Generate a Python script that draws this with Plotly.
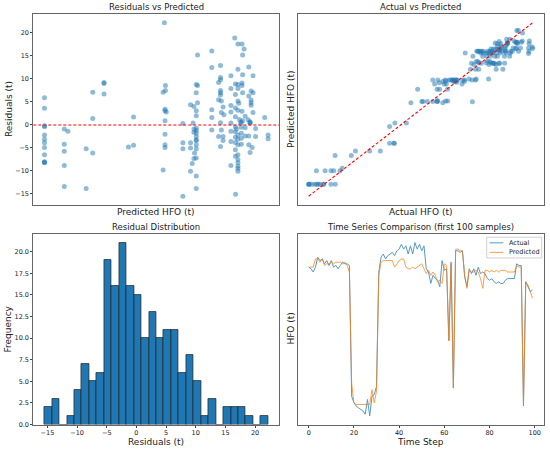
import numpy as np
import plotly.graph_objects as go
from plotly.subplots import make_subplots

# residual plot data: predicted HFO and residual (actual - predicted), both in t
pred_hfo = [
    11.3, 11.3, 11.3, 11.3, 11.3, 11.3, 11.3, 11.3, 11.3, 11.3, 11.3, 11.3,
    20.6, 20.6, 20.6, 20.6, 20.6, 22.3,
    30.9, 30.9, 34.0, 34.0, 34.0,
    39.3, 39.3, 39.3,
    50.8, 53.2, 53.2,
    67.7, 68.2, 68.2, 67.1, 67.1, 68.0, 68.0, 68.6, 68.0, 68.0, 68.0, 68.0,
    76.4, 76.4, 76.4, 76.4,
    80.0, 80.0, 80.0, 80.0,
    80.8, 81.2,
    81.6, 81.6, 81.6, 81.6,
    81.9,
    82.7, 82.7, 82.7, 82.7, 82.7, 82.7, 82.7, 82.7, 82.7, 82.7, 82.7, 82.7, 82.7, 82.7, 82.7,
    83.3, 83.3, 83.3,
    90.0, 90.0, 90.0, 90.0, 90.0,
    93.2, 93.2, 93.2,
    94.1, 94.1, 94.1, 94.1, 94.1, 94.1, 94.1, 94.1,
    94.5, 94.5, 94.5,
    95.3, 95.3, 95.3,
    95.7,
    99.0, 99.0, 99.0, 99.0, 99.0, 99.0, 99.0, 99.0,
    100.8,
    101.1, 101.1, 101.1, 101.1, 101.1, 101.1, 101.1, 101.1, 101.1, 101.1,
    101.2, 101.6,
    102.3, 102.3, 102.3, 102.3, 102.3, 102.3, 102.3, 102.3, 102.3, 102.3, 102.3, 102.3, 102.3, 102.3, 102.3,
    102.7, 103.0, 103.6, 103.8, 103.8,
    103.9, 103.9, 103.9,
    104.2, 104.2, 104.2, 104.2,
    104.5, 104.5, 104.5, 104.5,
    105.2,
    105.7, 105.7, 105.7,
    107.1,
    107.4, 107.4, 107.4, 107.4,
    108.0, 108.0, 108.0,
    108.5, 108.5, 108.5, 108.5,
    108.0, 109.0,
    109.4, 109.4, 109.4,
    110.6, 110.6,
    114.9,
    116.5, 116.5,
]
residuals = [
    5.9, 3.6, -0.2, -0.4, -2.2, -3.1, -3.9, -4.9, -6.5, -8.0, -8.2, -8.1,
    -0.9, -4.2, -5.7, -8.8, -13.4, -1.4,
    -5.2, -13.8, 7.1, 1.4, -6.1,
    9.2, 9.0, 6.7,
    -4.8, 1.7, -4.4,
    22.2, 8.6, 7.5, 7.1, -9.8, 3.4, 3.1, 2.8, 0.9, -2.0, -4.3, -4.9,
    0.3, -3.9, -5.2, -15.5,
    4.4, -3.9, -5.0, -10.1,
    -8.4, 0.4,
    4.0, -0.9, -1.6, -7.3,
    -6.1,
    8.8, 7.0, 3.1, 2.0, -0.7, -1.2, -1.8, -2.5, -3.2, -3.4, -4.3, -5.2, -7.2, -11.1, -13.8,
    15.2, 8.6, 4.8,
    16.1, 12.5, 3.3, 1.6, -1.1,
    9.2, 5.5, -2.5,
    12.9, 10.3, 9.8, 7.5, 7.0, 6.5, 0.5, -4.7,
    5.2, 2.7, -1.1,
    3.9, -2.5, -3.4,
    2.2,
    10.7, 7.9, 4.2, 2.8, 0.4, -1.4, -3.6, -8.8,
    18.9,
    8.9, 6.6, 3.7, 1.8, -0.4, -1.5, -2.7, -3.8, -5.4, -6.8,
    -15.1, -0.9,
    17.6, 12.1, 8.8, 7.9, 5.2, 3.2, -2.2, -3.1, -4.3, -6.5, -7.5, -8.2, -9.0, -9.5, -10.1,
    4.7, 1.2, 0.4, -0.5, 0.6,
    -1.8, -2.9, -4.2,
    17.6, 9.1, 8.6, 3.0,
    15.2, 10.9, 7.0, 0.9,
    16.5,
    1.9, -0.6, -2.4,
    1.1,
    12.6, 6.3, -2.4, -4.3,
    0.7, 0.4, 0.5,
    5.4, 4.8, 4.3, 7.4,
    -6.0, -4.9,
    10.7, 7.0, 2.7,
    -0.8, -2.5,
    1.6,
    -2.2, -3.0,
]

# histogram counts (30 bins between min and max residual)
hist_counts = [2, 3, 0, 1, 4, 7, 5, 6, 19, 16, 21, 16, 15, 10, 13,
               10, 11, 11, 6, 8, 5, 1, 3, 0, 2, 2, 2, 1, 0, 1]

# first 100 samples of the test set
time_step = list(range(100))
ts_actual = [
    95, 94, 92, 95, 101, 99, 100, 97, 99, 96,
    99, 95, 96, 94, 96, 98, 97, 97, 96, 16,
    12, 10, 9, 8, 7, 5, 14, 4, 16, 17,
    22, 92, 101, 103, 100, 102, 103, 104, 102, 105,
    106, 109, 106, 108, 103, 108, 103, 110, 106, 109,
    105, 108, 94, 92, 85, 90, 88, 87, 83, 99,
    93, 94, 50, 98, 21, 105, 105, 104, 105, 89,
    83, 94, 91, 94, 90, 95, 91, 92, 91, 88,
    87, 88, 86, 85, 86, 85, 85, 87, 88, 88,
    88, 88, 97, 96, 96, 10, 86, 83, 80, 81,
]
ts_predicted = [
    95, 95, 95, 100, 100, 98, 100, 96, 97, 97,
    98, 97, 98, 98, 98, 97, 98, 96, 92, 24,
    12, 11, 11, 11, 11, 11, 11, 11, 20, 12,
    19, 90, 98, 99, 99, 99, 99, 99, 95, 97,
    99, 100, 100, 95, 94, 94, 95, 94, 95, 96,
    97, 94, 91, 93, 90, 92, 90, 86, 87, 85,
    97, 96, 50, 97, 21, 106, 106, 105, 105, 90,
    82, 93, 92, 92, 93, 92, 88, 82, 93, 93,
    92, 93, 92, 93, 92, 93, 93, 93, 92, 92,
    92, 92, 96, 95, 95, 11, 86, 84, 80, 76,
]

resid_ticks = [-15, -10, -5, 0, 5, 10, 15, 20]
freq_ticks = [0, 2.5, 5, 7.5, 10, 12.5, 15, 17.5, 20]
step_ticks = [0, 20, 40, 60, 80, 100]

BLUE = "#1f77b4"
ORANGE = "#ff7f0e"
FONT = "DejaVu Sans"
W, H = 550, 454
DASH = "3px,2px"

actual_hfo = [p + r for p, r in zip(pred_hfo, residuals)]
edges = np.linspace(min(residuals), max(residuals), len(hist_counts) + 1)
centers = (edges[:-1] + edges[1:]) / 2


def padded(vals, frac=0.05):
    lo, hi = min(vals), max(vals)
    pad = (hi - lo) * frac
    return [lo - pad, hi + pad]


def px(x, y):
    return x / W, 1 - y / H


fig = make_subplots(rows=2, cols=2)

fig.add_trace(go.Scatter(x=pred_hfo, y=residuals, mode="markers",
                         marker=dict(color=BLUE, size=5, opacity=0.5),
                         showlegend=False), 1, 1)
fig.add_shape(type="line", xref="x domain", yref="y", x0=0, x1=1, y0=0, y1=0,
              line=dict(color="red", width=1.1, dash=DASH))

fig.add_trace(go.Scatter(x=actual_hfo, y=pred_hfo, mode="markers",
                         marker=dict(color=BLUE, size=5, opacity=0.5),
                         showlegend=False), 1, 2)
fig.add_trace(go.Scatter(x=[min(actual_hfo), max(actual_hfo)],
                         y=[min(actual_hfo), max(actual_hfo)], mode="lines",
                         line=dict(color="red", width=1.1, dash=DASH),
                         showlegend=False), 1, 2)

fig.add_trace(go.Bar(x=centers, y=hist_counts, width=edges[1] - edges[0],
                     marker=dict(color=BLUE, line=dict(color="#222", width=0.7)),
                     showlegend=False), 2, 1)

fig.add_trace(go.Scatter(x=time_step, y=ts_actual, mode="lines", name="Actual",
                         line=dict(color=BLUE, width=1), opacity=0.75,
                         showlegend=False), 2, 2)
fig.add_trace(go.Scatter(x=time_step, y=ts_predicted, mode="lines", name="Predicted",
                         line=dict(color=ORANGE, width=1), opacity=0.75,
                         showlegend=False), 2, 2)

axis_style = dict(showline=True, mirror=True, linecolor="#666", linewidth=1,
                  showgrid=False, zeroline=False, ticks="outside", ticklen=2,
                  tickcolor="#444", tickfont=dict(family=FONT, size=6.5, color="#222"))
no_ticks = dict(showticklabels=False, ticks="")

left = [33.3 / W, 279.3 / W]
right = [297.5 / W, 543.7 / W]
top = [1 - 206.7 / H, 1 - 14.3 / H]
bottom = [1 - 428.3 / H, 1 - 236 / H]

fig.update_xaxes(**axis_style)
fig.update_yaxes(**axis_style)

fig.update_xaxes(domain=left, range=padded(pred_hfo), **no_ticks, row=1, col=1)
fig.update_yaxes(domain=top, range=padded(residuals), tickvals=resid_ticks, row=1, col=1)

fig.update_xaxes(domain=right, range=padded(actual_hfo), **no_ticks, row=1, col=2)
fig.update_yaxes(domain=top, range=padded(pred_hfo + [min(actual_hfo), max(actual_hfo)]),
                 **no_ticks, row=1, col=2)

fig.update_xaxes(domain=left, range=padded(list(edges)), tickvals=resid_ticks, row=2, col=1)
fig.update_yaxes(domain=bottom, range=[0, max(hist_counts) * 1.05], tickvals=freq_ticks,
                 tickformat=".1f", row=2, col=1)

fig.update_xaxes(domain=right, range=padded(time_step), tickvals=step_ticks, row=2, col=2)
fig.update_yaxes(domain=bottom, range=padded(ts_actual + ts_predicted), **no_ticks, row=2, col=2)

texts = [
    ("Residuals vs Predicted", 156.3, 7.3, 0, 8.5),
    ("Actual vs Predicted", 420.6, 7.3, 0, 8.5),
    ("Residual Distribution", 156.3, 229.5, 0, 8.5),
    ("Time Series Comparison (first 100 samples)", 420.6, 229.5, 0, 8.5),
    ("Predicted HFO (t)", 156.3, 213.5, 0, 9),
    ("Actual HFO (t)", 420.6, 213.5, 0, 9),
    ("Residuals (t)", 156.3, 445.5, 0, 9),
    ("Time Step", 420.6, 445.5, 0, 9),
    ("Residuals (t)", 8.5, 110.5, -90, 9),
    ("Predicted HFO (t)", 290.5, 110.5, -90, 9),
    ("Frequency", 8.5, 332, -90, 9),
    ("HFO (t)", 291.5, 332, -90, 9),
]
for text, x, y, angle, size in texts:
    ax, ay = px(x, y)
    fig.add_annotation(text=text, x=ax, y=ay, xref="paper", yref="paper",
                       showarrow=False, textangle=angle, xanchor="center", yanchor="middle",
                       font=dict(family=FONT, size=size, color="#222"))

# hand-drawn legend box for the time series panel
x0, y1 = px(486.7, 239.3)
x1, y0 = px(541.7, 260.3)
fig.add_shape(type="rect", xref="paper", yref="paper", x0=x0, x1=x1, y0=y0, y1=y1,
              line=dict(color="#d0d0d0", width=1), fillcolor="rgba(255,255,255,0.8)")
for label, color, ypix in [("Actual", BLUE, 245.0), ("Predicted", ORANGE, 254.6)]:
    hx0, hy = px(489.5, ypix)
    hx1, _ = px(503.3, ypix)
    fig.add_shape(type="line", xref="paper", yref="paper", x0=hx0, x1=hx1, y0=hy, y1=hy,
                  line=dict(color=color, width=1), opacity=0.75)
    tx, _ = px(506.5, ypix)
    fig.add_annotation(text=label, x=tx, y=hy, xref="paper", yref="paper",
                       showarrow=False, xanchor="left", yanchor="middle",
                       font=dict(family=FONT, size=6.5, color="#222"))

fig.update_layout(
    width=W, height=H,
    margin=dict(l=0, r=0, t=0, b=0),
    paper_bgcolor="white", plot_bgcolor="white",
    font=dict(family=FONT, color="#222"),
    bargap=0,
    showlegend=False,
)

# the page body has a default 8px margin; drop it so the figure fills the window
fig.write_html("out.html", config={"displayModeBar": False},
               post_script="document.body.style.margin = '0';")
